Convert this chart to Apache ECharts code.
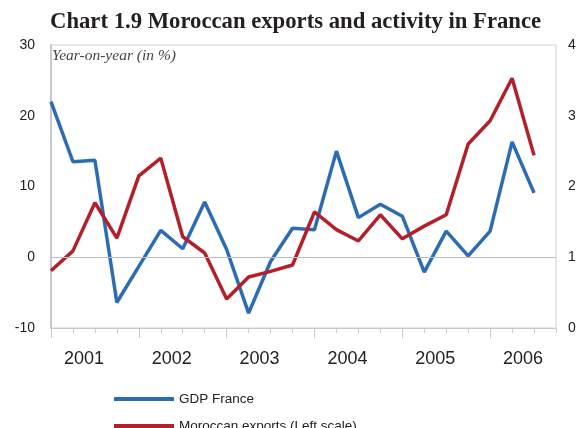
<!DOCTYPE html>
<html>
<head>
<meta charset="utf-8">
<script src="https://cdn.jsdelivr.net/npm/echarts@6/dist/echarts.min.js"></script>
<style>
  html, body { margin: 0; padding: 0; background: #fff; }
  #chart { width: 581px; height: 428px; }
</style>
</head>
<body>
<div id="chart"></div>
<script>
// years on the axis, each split into quarters
const years = ['2001', '2002', '2003', '2004', '2005', '2006']
const quarters = ['Q1', 'Q2', 'Q3', 'Q4']

// GDP France, year-on-year %, right scale
const gdpFrance = [3.2, 2.35, 2.37, 0.36, 0.87, 1.38, 1.12, 1.78, 1.11, 0.21, 0.94, 1.41,
    1.39, 2.5, 1.56, 1.75, 1.58, 0.79, 1.37, 1.02, 1.37, 2.63, 1.91]

// Moroccan exports, year-on-year %, left scale
const moroccanExports = [-1.9, 0.9, 7.7, 2.7, 11.5, 14.0, 2.9, 0.6, -5.9, -2.8, -2.0, -1.1,
    6.4, 3.9, 2.3, 6.0, 2.6, 4.4, 6.0, 16.0, 19.3, 25.3, 14.4]

const leftTicks = { min: -10, max: 30, step: 10 }
const rightTicks = { min: 0, max: 4, step: 1 }

const quarterCats = []
years.forEach(function (y) {
    quarters.forEach(function (q) { quarterCats.push(y + ' ' + q) })
})

// year labels sit halfway between the 2nd and 3rd quarter of each year
const labelSlots = []
for (let i = 0; i < quarterCats.length - 1; i++) {
    labelSlots.push(i % 4 === 1 ? years[(i - 1) / 4] : '')
}

const myChart = echarts.init(document.getElementById('chart'))

const legendText = {
    fontFamily: 'Liberation Sans',
    fontSize: 13.5,
    color: '#222'
}

const option = {
    animation: false,
    title: [
        {
            text: 'Chart 1.9 Moroccan exports and activity in France',
            left: 45,
            top: 6,
            textStyle: {
                fontFamily: 'Liberation Serif',
                fontWeight: 'bold',
                fontSize: 22.7,
                color: '#231f20'
            }
        },
        {
            text: 'Year-on-year (in %)',
            left: 47,
            top: 43,
            textStyle: {
                fontFamily: 'Liberation Serif',
                fontStyle: 'italic',
                fontWeight: 'normal',
                fontSize: 15.5,
                color: '#444'
            }
        }
    ],
    legend: [
        {
            left: 109,
            top: 387,
            itemWidth: 60,
            itemHeight: 4,
            icon: 'rect',
            textStyle: legendText,
            data: ['GDP France']
        },
        {
            left: 109,
            top: 414,
            itemWidth: 60,
            itemHeight: 4,
            icon: 'rect',
            textStyle: legendText,
            data: ['Moroccan exports (Left scale)']
        }
    ],
    grid: {
        show: true,
        borderColor: '#d0d0d0',
        borderWidth: 1,
        left: 51,
        right: 25,
        top: 45,
        bottom: 100
    },
    xAxis: [
        {
            type: 'category',
            data: quarterCats,
            boundaryGap: false,
            axisLine: { onZero: false, lineStyle: { color: '#c8c8c8', width: 1 } },
            axisTick: { interval: 0, length: 5, lineStyle: { color: '#c8c8c8' } },
            axisLabel: { show: false },
            splitLine: { show: false }
        },
        {
            // longer ticks at year boundaries
            type: 'category',
            data: quarterCats,
            boundaryGap: false,
            position: 'bottom',
            axisLine: { show: false, onZero: false },
            axisTick: {
                interval: function (index) { return index % 4 === 0 },
                length: 10,
                lineStyle: { color: '#c8c8c8' }
            },
            axisLabel: { show: false },
            splitLine: { show: false }
        },
        {
            // year labels
            type: 'category',
            data: labelSlots,
            boundaryGap: true,
            position: 'bottom',
            axisLine: { show: false, onZero: false },
            axisTick: { show: false },
            axisLabel: {
                interval: 0,
                margin: 22,
                fontFamily: 'Liberation Sans',
                fontSize: 18,
                color: '#222'
            },
            splitLine: { show: false }
        }
    ],
    yAxis: [
        {
            type: 'value',
            min: leftTicks.min,
            max: leftTicks.max,
            interval: leftTicks.step,
            axisLine: { show: true, lineStyle: { color: '#c8c8c8', width: 2 } },
            axisTick: { show: false },
            axisLabel: {
                margin: 16,
                fontFamily: 'Liberation Sans',
                fontSize: 14,
                color: '#222'
            },
            splitLine: { show: false }
        },
        {
            type: 'value',
            min: rightTicks.min,
            max: rightTicks.max,
            interval: rightTicks.step,
            position: 'right',
            axisLine: { show: false },
            axisTick: { show: false },
            axisLabel: {
                margin: 12,
                fontFamily: 'Liberation Sans',
                fontSize: 14,
                color: '#222'
            },
            splitLine: { show: false }
        }
    ],
    series: [
        {
            name: 'GDP France',
            type: 'line',
            xAxisIndex: 0,
            yAxisIndex: 1,
            data: gdpFrance,
            symbol: 'none',
            color: '#2b6cb3',
            lineStyle: { width: 3.5, color: '#2b6cb3' },
            markLine: {
                silent: true,
                symbol: 'none',
                label: { show: false },
                lineStyle: { color: '#bdbdbd', width: 1, type: 'solid' },
                data: [{ yAxis: 1 }]
            },
            z: 2
        },
        {
            name: 'Moroccan exports (Left scale)',
            type: 'line',
            xAxisIndex: 0,
            yAxisIndex: 0,
            data: moroccanExports,
            symbol: 'none',
            color: '#b3202a',
            lineStyle: { width: 3.5, color: '#b3202a' },
            z: 3
        }
    ]
}

myChart.setOption(option)

window.addEventListener('resize', function () {
    myChart.resize()
})
</script>
</body>
</html>
